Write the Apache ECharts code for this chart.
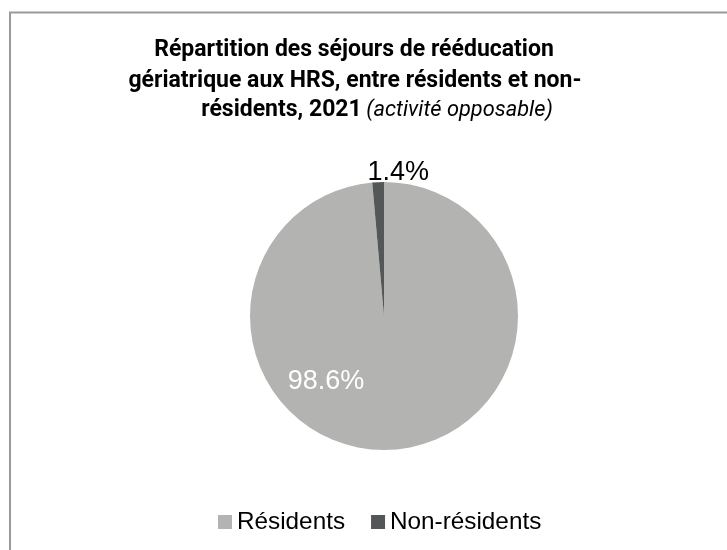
<!DOCTYPE html>
<html>
<head>
<meta charset="utf-8">
<script src="https://cdn.jsdelivr.net/npm/echarts@6/dist/echarts.min.js"></script>
<style>
html,body{margin:0;padding:0;background:#fff;}
#chart{width:727px;height:550px;}
</style>
</head>
<body>
<div id="chart"></div>
<script>
const categories = ['Résidents', 'Non-résidents'];
const values = [98.6, 1.4];
const colors = ['#b3b4b2', '#535758'];
const titleLines = ['Répartition des séjours de rééducation', 'gériatrique aux HRS, entre résidents et non-', 'résidents, 2021'];
const titleNote = '(activité opposable)';

const chart = echarts.init(document.getElementById('chart'));
const FONT = '"Liberation Sans", Arial, Helvetica, sans-serif';
const TFONT = 'Roboto, "Liberation Sans", Arial, sans-serif';
const boldStyle = { fontFamily: TFONT, fontSize: 23, fontWeight: 'bold', color: '#000' };

const option = {
  backgroundColor: '#ffffff',
  animation: false,
  graphic: [{
    type: 'rect',
    shape: { x: 10, y: 12.5, width: 760, height: 600 },
    style: { fill: 'none', stroke: '#9a9a9a', lineWidth: 2 },
    silent: true
  }],
  title: [
    { text: titleLines[0], left: 349, textAlign: 'center', top: 34, textStyle: boldStyle },
    { text: titleLines[1], left: 350, textAlign: 'center', top: 65, textStyle: boldStyle },
    { text: '{b|' + titleLines[2] + '} {i|' + titleNote + '}', left: 372, textAlign: 'center', top: 94,
      textStyle: { fontFamily: TFONT, fontWeight: 'normal', rich: {
        b: boldStyle,
        i: { fontFamily: TFONT, fontSize: 21.8, fontStyle: 'italic', fontWeight: 'normal', color: '#000' }
      } } }
  ],
  legend: {
    data: categories,
    top: 505,
    left: 213,
    itemWidth: 14,
    itemHeight: 14,
    itemGap: 26,
    icon: 'rect',
    textStyle: { fontFamily: FONT, fontSize: 24.3, color: '#000' }
  },
  series: [{
    type: 'pie',
    center: [384, 316],
    radius: 134,
    startAngle: 90,
    clockwise: true,
    color: colors,
    itemStyle: { borderWidth: 0 },
    labelLine: { show: false, length: 0, length2: 0 },
    data: categories.map((c, i) => ({
      name: c,
      value: values[i],
      label: i === 0
        ? { show: true, position: 'inside', color: '#ffffff', fontFamily: FONT, fontSize: 27,
            formatter: p => p.value.toFixed(1) + '%' }
        : { show: true, position: 'outside', color: '#000000', fontFamily: FONT, fontSize: 27,
            formatter: p => p.value.toFixed(1) + '%' }
    })),
    labelLayout: function (p) {
      if (p.dataIndex === 0) return { dx: -61, dy: -4 };
      return { dx: 56, dy: -10 };
    }
  }]
};
chart.setOption(option);
</script>
</body>
</html>
